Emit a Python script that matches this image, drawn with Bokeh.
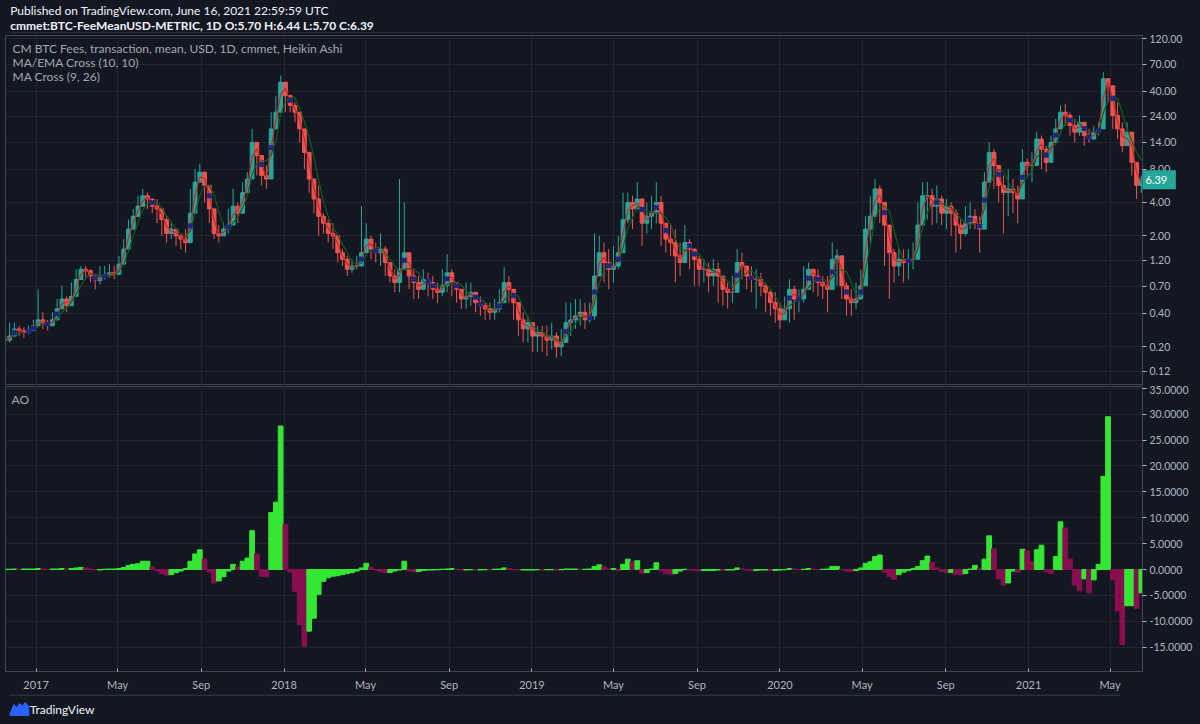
import numpy as np
import pandas as pd
from bokeh.plotting import figure
from bokeh.layouts import column
from bokeh.models import Range1d, FixedTicker, Label, NumeralTickFormatter, Span
from bokeh.core.properties import value
from bokeh.embed import file_html
from bokeh.resources import INLINE

# ---------------- data (weekly readings of the daily chart) ----------------
last_date = "2021-06-16"
close = [0.23,0.25,0.29,0.28,0.27,0.28,0.31,0.35,0.33,0.31,
         0.35,0.44,0.54,0.47,0.57,0.81,1.0,0.97,0.87,0.79,
         0.84,0.90,0.93,0.90,1.11,1.52,2.3,3.0,3.7,4.6,
         4.3,3.7,3.5,2.8,2.1,2.3,2.0,1.87,1.74,3.2,
         6.1,7.5,5.7,3.5,2.1,2.0,2.3,2.5,3.7,3.2,
         4.9,6.5,13.9,10.6,7.0,6.5,18.4,26,48.5,36.7,
         29.9,26,18.4,11.3,6.5,4.3,3.0,2.6,2.1,2.0,
         1.41,1.23,1.0,1.07,1.07,1.41,1.87,1.52,1.41,1.52,
         1.15,0.87,0.76,1.0,1.41,0.87,0.76,0.66,0.81,0.76,
         0.66,0.62,0.71,0.93,0.76,0.66,0.54,0.57,0.62,0.50,
         0.47,0.44,0.41,0.44,0.50,0.76,0.66,0.50,0.35,0.29,
         0.33,0.25,0.27,0.25,0.23,0.25,0.20,0.22,0.33,0.35,
         0.38,0.41,0.35,0.38,0.87,1.41,1.15,1.0,1.07,1.41,
         2.8,4.0,3.5,4.3,2.6,3.0,3.2,4.0,2.6,1.87,
         1.74,1.32,1.15,1.74,1.52,1.23,1.0,1.0,0.87,1.0,
         0.87,0.66,0.62,0.62,1.15,1.07,0.87,0.81,0.81,0.71,
         0.62,0.50,0.44,0.35,0.44,0.66,0.54,0.54,0.66,1.0,
         0.87,0.76,0.71,0.66,1.23,1.32,0.71,0.54,0.50,0.54,
         0.71,2.3,3.0,5.3,4.0,2.5,1.41,1.07,1.23,1.15,
         1.23,1.23,2.5,4.6,4.6,3.7,4.3,3.2,3.7,3.2,
         2.5,2.1,2.6,3.0,2.6,2.3,6.1,11.3,8.6,5.7,
         4.9,5.3,4.9,4.3,9.2,8.6,8.6,14.9,12.1,9.2,
         13.9,18.4,26,24.3,19.7,17.2,21.1,16,14.9,17.2,
         18.4,52,45,24.3,18.4,13,17.2,9.2,5.7,6.39]
high = [0.25,0.33,0.33,0.31,0.30,0.31,0.35,0.66,0.41,0.35,
        0.41,0.54,0.71,0.57,0.76,1.0,1.07,1.07,1.0,0.87,
        1.07,1.07,1.11,1.07,1.32,1.87,2.8,3.5,4.6,5.3,
        4.9,4.3,4.3,3.5,3.0,2.6,2.3,2.1,2.3,5.3,
        8.0,8.9,7.0,5.3,2.6,2.5,2.6,3.5,5.3,4.0,
        6.1,7.5,18.4,13.9,9.2,8.6,26,36.7,55.7,45,
        36.7,32,24.3,16,9.2,6.1,5.7,3.2,2.8,2.6,
        2.0,1.52,1.32,1.23,1.32,3.7,2.6,2.0,1.74,2.1,
        1.62,1.07,1.0,6.5,4.0,1.15,1.0,0.87,1.0,0.93,
        0.87,0.76,1.0,1.37,1.0,0.76,0.66,0.76,0.76,0.62,
        0.57,0.50,0.50,0.54,0.66,1.04,0.87,0.66,0.50,0.41,
        0.38,0.33,0.31,0.31,0.31,0.33,0.27,0.29,0.50,0.50,
        0.54,0.54,0.50,0.50,2.1,2.0,1.74,1.52,1.62,2.0,
        4.9,4.9,4.6,6.1,4.3,4.0,4.6,6.1,4.6,2.6,
        2.5,2.3,1.74,2.5,1.87,1.52,1.32,1.23,1.15,1.23,
        1.15,0.81,0.76,0.87,1.52,1.41,1.07,1.07,1.0,0.93,
        0.76,0.66,0.62,0.50,0.57,0.81,0.71,0.66,1.07,1.15,
        1.0,1.0,0.87,0.87,1.74,1.52,1.0,0.76,0.66,0.76,
        1.0,3.0,4.6,6.5,5.7,3.5,2.0,1.52,1.52,1.52,
        1.52,1.74,4.0,6.1,6.1,5.3,5.7,4.6,4.3,4.0,
        3.5,2.8,3.7,4.0,3.5,3.0,7.5,13.9,12.1,8.0,
        7.0,8.0,6.5,5.7,12.1,9.9,11.3,17.2,16,13,
        16,22.6,29.9,31,26,22.6,24.3,21.1,18.4,19.7,
        21.1,59.6,52,36.7,32,21.1,21.1,16,7.5,7.0]
low = [0.20,0.22,0.25,0.25,0.24,0.26,0.28,0.31,0.29,0.28,
       0.31,0.35,0.44,0.41,0.47,0.66,0.87,0.81,0.76,0.66,
       0.73,0.81,0.84,0.81,1.0,1.32,1.87,2.5,3.2,4.0,
       3.5,3.2,2.6,2.0,1.74,1.87,1.62,1.52,1.41,2.3,
       4.9,6.1,4.0,2.6,1.87,1.74,2.0,2.1,3.2,2.6,
       4.0,5.3,8.0,7.0,5.7,5.3,8.6,18.4,32,26,
       26,21.1,13.9,8.0,4.9,3.2,2.0,2.1,1.74,1.52,
       1.15,1.07,0.87,0.93,1.0,1.07,1.52,1.23,1.15,1.07,
       0.87,0.76,0.62,0.62,1.15,0.66,0.54,0.54,0.66,0.57,
       0.54,0.50,0.57,0.62,0.57,0.50,0.44,0.44,0.47,0.41,
       0.38,0.35,0.35,0.35,0.41,0.50,0.50,0.35,0.25,0.22,
       0.22,0.18,0.18,0.18,0.165,0.19,0.16,0.165,0.25,0.25,
       0.29,0.31,0.29,0.33,0.35,0.87,0.76,0.66,0.76,1.0,
       2.0,2.6,2.3,3.5,1.62,2.1,2.3,2.6,1.62,1.41,
       1.32,0.76,0.87,1.32,1.0,0.71,0.71,0.76,0.62,0.71,
       0.50,0.47,0.44,0.50,0.87,0.81,0.66,0.62,0.44,0.57,
       0.41,0.38,0.33,0.29,0.35,0.33,0.35,0.41,0.50,0.66,
       0.62,0.57,0.54,0.41,0.76,0.71,0.54,0.38,0.38,0.44,
       0.57,1.52,1.74,3.5,2.6,1.07,0.54,0.76,0.87,0.76,
       0.81,1.0,1.52,3.0,2.8,2.5,2.6,2.5,2.3,2.0,
       1.41,1.52,2.0,2.3,2.3,1.41,2.6,8.0,5.3,4.0,
       2.1,3.0,3.2,2.6,5.3,7.0,6.1,9.2,8.0,7.5,
       10.6,13.9,21.1,19.7,16,13.9,16,13,13.9,14.9,
       16,19.7,32,18.4,14.9,11.3,13,7.0,4.3,4.9]
ao = [0.05,0.05,0.1,0.05,0.1,0.1,0.1,0.2,0.1,0.05,
      0.1,0.1,0.2,0.1,0.2,0.3,0.4,0.3,0.1,-0.1,
      -0.1,0.05,0.1,0.1,0.2,0.4,0.8,1.0,1.1,1.6,
      1.6,0.5,-0.3,-0.8,-1.1,-1.0,-0.6,-0.3,0.2,1.6,
      3.0,3.8,2.0,-0.5,-2.6,-2.2,-1.4,-0.3,1.0,0.5,
      1.6,2.2,7.5,3.0,-1.3,-1.4,11,13,27.7,8.7,
      -0.5,-4.2,-10.6,-14.8,-11.9,-9.4,-4.8,-2.3,-1.6,-1.3,
      -1.2,-1.0,-0.8,-0.6,-0.3,0.3,1.2,0.4,-0.1,-0.4,
      -0.6,-0.6,-0.3,-0.1,1.6,-0.3,-0.4,-0.4,-0.2,-0.1,
      -0.1,-0.05,0.05,0.1,0.2,0.05,-0.1,-0.1,-0.05,-0.1,
      -0.1,-0.05,-0.1,0.05,0.1,0.3,0.2,-0.05,-0.1,-0.1,
      -0.1,-0.1,-0.05,-0.1,-0.05,-0.05,-0.1,-0.05,0.1,0.1,
      0.1,0.05,0.05,0.1,0.6,0.9,0.5,0.1,0.2,-0.2,
      1.0,2.0,1.6,1.7,-0.7,-0.6,0.1,1.3,-0.3,-0.8,
      -0.9,-0.8,-0.3,0.05,-0.1,-0.2,-0.3,-0.2,-0.2,-0.2,
      -0.1,-0.2,-0.1,-0.1,0.3,0.1,-0.1,-0.2,-0.2,-0.1,
      -0.1,-0.2,-0.2,-0.1,-0.05,0.2,0.1,-0.05,0.05,0.2,
      0.1,-0.05,0.05,0.1,0.6,0.6,0.05,-0.3,-0.4,-0.2,
      0.3,1.2,1.5,2.5,2.8,-0.5,-1.4,-1.9,-1.0,-0.5,
      -0.2,0.2,0.6,1.7,2.6,1.4,0.3,-0.4,-0.6,-0.6,
      -0.9,-1.0,-0.8,0.1,0.8,0.2,2.0,6.5,4.0,-1.8,
      -3.0,-2.6,-0.3,-0.6,3.9,3.6,1.5,3.8,4.7,-0.4,
      -0.8,2.5,9.2,8.0,2.0,-3.0,-4.1,-1.8,-4.5,-2.0,
      1.0,18,29.5,-2.0,-8.0,-14.5,-7.0,-7.0,-7.5,-4.5]

price_ticks = [0.12, 0.2, 0.4, 0.7, 1.2, 2, 4, 8, 14, 24, 40, 70, 120]
ao_ticks = [-15, -10, -5, 0, 5, 10, 15, 20, 25, 30, 35]
date_ticks = ["2017-01-01", "2017-05-01", "2017-09-01", "2018-01-01", "2018-05-01",
              "2018-09-01", "2019-01-01", "2019-05-01", "2019-09-01", "2020-01-01",
              "2020-05-01", "2020-09-01", "2021-01-01", "2021-05-01"]
date_labels = ["2017", "May", "Sep", "2018", "May", "Sep", "2019", "May", "Sep",
               "2020", "May", "Sep", "2021", "May"]
last_price = 6.39
header1 = "Published on TradingView.com, June 16, 2021 22:59:59 UTC"
header2 = "cmmet:BTC-FeeMeanUSD-METRIC, 1D  O:5.70 H:6.44 L:5.70 C:6.39"
legend_lines = ["CM BTC Fees, transaction, mean, USD, 1D, cmmet, Heikin Ashi",
                "MA/EMA Cross (10, 10)", "MA Cross (9, 26)"]

# ---------------- styling ----------------
BG = "#131722"
GRID = "#222531"
BORDER = "#434651"
AXTXT = "#b2b5be"
UP, DOWN = "#26a69a", "#ef5350"
AO_UP, AO_DN = "#35e635", "#880e4f"
FONT = "Lato"

dates = pd.date_range(end=last_date, periods=len(close), freq="7D")
week_ms = 7 * 24 * 3600 * 1000
close_a = np.array(close)
open_a = np.r_[close_a[0], close_a[:-1]]
hi_a = np.maximum(np.array(high), np.maximum(open_a, close_a))
lo_a = np.minimum(np.array(low), np.minimum(open_a, close_a))
cand_col = [UP if c >= o else DOWN for o, c in zip(open_a, close_a)]
ma_fast = pd.Series(close_a).rolling(2, min_periods=1).mean().values
ma_slow = pd.Series(close_a).rolling(4, min_periods=1).mean().values
diff = np.sign(ma_fast - ma_slow)
cross_idx = [i for i in range(1, len(diff)) if diff[i] != diff[i - 1] and diff[i] != 0]

ao_a = np.array(ao)
ao_col = [AO_UP if (i == 0 or ao_a[i] >= ao_a[i - 1]) else AO_DN for i in range(len(ao_a))]

tick_ms = [pd.Timestamp(d).value // 10**6 for d in date_ticks]
overrides = {t: lab for t, lab in zip(tick_ms, date_labels)}
x_start = pd.Timestamp("2016-11-16 23:00")
x_end = pd.Timestamp("2021-06-17 17:00")
xr = Range1d(start=x_start, end=x_end)
# outer right border of the chart box sits 53 px right of the plot frame (frame is 1137 px)
border_x = x_start + (x_end - x_start) * (1190 / 1137)


def style_axis(ax, size="10.5px"):
    ax.axis_line_color = BORDER
    ax.major_tick_line_color = AXTXT
    ax.minor_tick_line_color = None
    ax.major_label_text_color = AXTXT
    ax.major_label_text_font = FONT
    ax.major_label_text_font_size = size


# ---------------- header ----------------
ph = figure(width=1200, height=33, x_range=(0, 1200), y_range=(33, 0),
            x_axis_location=None, y_axis_location=None, min_border=0,
            output_backend="svg", toolbar_location=None,
            background_fill_color=BG, border_fill_color=BG, outline_line_color=None)
ph.grid.visible = False
ph.text(x=[5], y=[10], text=[header1], text_color="#f0f3fa", text_font=value(FONT),
        text_font_size="12px", text_baseline="middle")
ph.text(x=[5], y=[24.5], text=[header2], text_color="#f0f3fa", text_font=value(FONT),
        text_font_size="12px", text_font_style="bold", text_baseline="middle")
ph.segment(x0=[4.5], y0=[32.5], x1=[1195.5], y1=[32.5], line_color=BORDER, line_width=1)

# ---------------- price pane ----------------
pa = figure(frame_width=1137, frame_height=350, x_axis_type="datetime", y_axis_type="log",
            x_range=xr, y_range=Range1d(0.0897, 127.7), y_axis_location="right",
            min_border_left=5, min_border_right=58, min_border_top=2, min_border_bottom=0,
            output_backend="svg", toolbar_location=None,
            background_fill_color=BG, border_fill_color=BG, outline_line_color=BORDER)
pa.xaxis.visible = False
pa.xgrid.ticker = FixedTicker(ticks=tick_ms)
pa.yaxis.ticker = FixedTicker(ticks=price_ticks)
pa.ygrid.ticker = FixedTicker(ticks=price_ticks)
pa.yaxis.formatter = NumeralTickFormatter(format="0.00")
pa.yaxis.major_tick_in = 0
pa.yaxis.major_tick_out = 4
pa.yaxis.major_label_standoff = 3
style_axis(pa.yaxis)
pa.grid.grid_line_color = GRID

pa.segment(x0=dates, y0=lo_a, x1=dates, y1=hi_a, line_color=cand_col, line_width=1)
pa.vbar(x=dates, width=week_ms * 0.8, top=np.maximum(open_a, close_a),
        bottom=np.minimum(open_a, close_a), fill_color=cand_col, line_color=cand_col)
pa.line(dates, ma_slow, line_color="#145a1e", line_width=1.2)
pa.line(dates, ma_fast, line_color="#c62828", line_width=1.2)
pa.scatter([dates[i] for i in cross_idx], [ma_fast[i] for i in cross_idx],
           marker="x", size=6, line_color="#1a237e", line_width=2.5)

for k, t in enumerate(legend_lines):
    pa.add_layout(Label(x=7, y=337 - 14 * k, x_units="screen", y_units="screen", text=t,
                        text_color="#a3a6af", text_font=FONT, text_font_size="12px",
                        text_baseline="middle"))
# last-price tag in the right price-scale panel
pa.add_layout(Label(x=-43, y=last_price, x_units="screen", y_units="data", text=" 6.39 ",
                    text_color="#ffffff", text_font=FONT, text_font_size="11px",
                    text_baseline="middle", background_fill_color=UP, padding=3), "right")
pa.add_layout(Span(location=border_x, dimension="height", line_color=BORDER, line_width=1), "right")

# ---------------- AO pane ----------------
pb = figure(frame_width=1137, frame_height=285, x_axis_type="datetime",
            x_range=xr, y_range=Range1d(-19.69, 35.33), y_axis_location="right",
            min_border_left=5, min_border_right=58, min_border_top=1, min_border_bottom=23,
            output_backend="svg", toolbar_location=None,
            background_fill_color=BG, border_fill_color=BG, outline_line_color=BORDER)
pb.xaxis.ticker = FixedTicker(ticks=tick_ms)
pb.xaxis.major_label_overrides = overrides
pb.xgrid.ticker = FixedTicker(ticks=tick_ms)
pb.xaxis.major_tick_in = 3
pb.xaxis.major_tick_out = 0
pb.xaxis.major_label_standoff = 6
style_axis(pb.xaxis, "11px")
pb.yaxis.ticker = FixedTicker(ticks=ao_ticks)
pb.ygrid.ticker = FixedTicker(ticks=ao_ticks)
pb.yaxis.formatter = NumeralTickFormatter(format="0.0000")
pb.yaxis.major_tick_in = 0
pb.yaxis.major_tick_out = 4
pb.yaxis.major_label_standoff = 3
style_axis(pb.yaxis)
pb.grid.grid_line_color = GRID
pb.vbar(x=dates, width=week_ms, top=ao_a, bottom=0, fill_color=ao_col, line_color=ao_col)
pb.add_layout(Label(x=6, y=272, x_units="screen", y_units="screen", text="AO",
                    text_color="#a3a6af", text_font=FONT, text_font_size="12px",
                    text_baseline="middle"))
pb.add_layout(Span(location=border_x, dimension="height", line_color=BORDER, line_width=1), "right")

# ---------------- footer ----------------
pf = figure(width=1200, height=30, x_range=(0, 1200), y_range=(30, 0),
            x_axis_location=None, y_axis_location=None, min_border=0,
            output_backend="svg", toolbar_location=None,
            background_fill_color=BG, border_fill_color=BG, outline_line_color=None)
pf.grid.visible = False
pf.segment(x0=[4.5], y0=[0.5], x1=[1195.5], y1=[0.5], line_color=BORDER, line_width=1)
pf.patch(x=[5, 9, 12, 15, 18, 21, 25, 25, 5], y=[19, 10, 13, 9, 12, 8, 12, 21, 21],
         fill_color="#2962ff", line_color="#2962ff")
pf.text(x=[26], y=[15], text=["TradingView"], text_color="#f0f3fa", text_font=value(FONT),
        text_font_size="12px", text_baseline="middle")

layout = column(ph, pa, pb, pf, spacing=0)
html = file_html(layout, INLINE)
html = html.replace("<head>", "<head><style>html,body{margin:0;padding:0;background:#131722;}</style>", 1)
open("out.html", "w").write(html)
